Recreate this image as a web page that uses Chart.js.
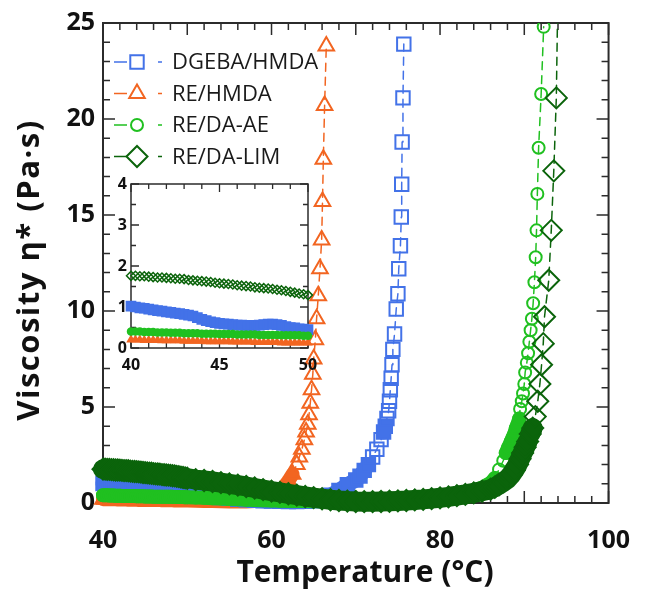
<!DOCTYPE html>
<html>
<head>
<meta charset="utf-8">
<script src="https://cdn.jsdelivr.net/npm/chart.js@4.4.1/dist/chart.umd.min.js"></script>
<style>
  html, body { margin: 0; padding: 0; background: #fff; }
  #wrap { position: relative; width: 653px; height: 592px; }
  #main { position: absolute; left: 0; top: 0; }
  #inset { position: absolute; left: 90px; top: 170px; }
</style>
</head>
<body>
<div id="wrap">
  <canvas id="main" width="653" height="592"></canvas>
  <canvas id="inset" width="240" height="215"></canvas>
</div>
<script>
// temperatures shared by all series in the 40-50 °C window (also the inset range)
const t40to50 = [40, 40.25, 40.5, 40.75, 41, 41.25, 41.5, 41.75, 42, 42.25, 42.5, 42.75, 43, 43.25, 43.5, 43.75,
    44, 44.25, 44.5, 44.75, 45, 45.25, 45.5, 45.75, 46, 46.25, 46.5, 46.75, 47, 47.25, 47.5, 47.75,
    48, 48.25, 48.5, 48.75, 49, 49.25, 49.5, 49.75, 50];

// DGEBA/HMDA
const dgebaT = t40to50.concat([51, 52, 53, 54, 55, 56, 57, 58, 59, 60, 61, 62, 63, 64, 65, 66, 67, 68, 69,
    70, 70.5, 71, 71.5, 72, 72.5, 73, 73.3, 73.5, 73.7, 73.9, 74.0, 74.1, 74.2, 74.3, 74.4, 74.6, 74.8,
    75.0, 75.1, 75.3, 75.4, 75.45, 75.5, 75.6, 75.7]);
const dgebaV = [1.02, 1.00, 0.98, 0.97, 0.95, 0.93, 0.91, 0.90, 0.88, 0.87, 0.85, 0.84, 0.82, 0.80, 0.78, 0.74,
    0.70, 0.67, 0.64, 0.62, 0.60, 0.59, 0.58, 0.57, 0.56, 0.56, 0.55, 0.55, 0.55, 0.56, 0.57, 0.58,
    0.58, 0.57, 0.55, 0.52, 0.50, 0.49, 0.47, 0.46, 0.45,
    0.42, 0.38, 0.33, 0.28, 0.24, 0.2, 0.17, 0.14, 0.12, 0.1, 0.09, 0.08, 0.08, 0.09, 0.12, 0.2, 0.4, 0.65, 0.95,
    1.2, 1.4, 1.7, 2.0, 2.4, 2.8, 3.3, 3.7, 4.0, 4.4, 4.8, 5.3, 5.9, 6.5, 7.2, 8.0, 8.8, 10.1,
    10.9, 12.2, 13.4, 14.9, 16.6, 18.8, 21.1, 23.9];

// RE/HMDA
const hmdaT = t40to50.concat([51, 52, 53, 54, 55, 56, 57, 58, 59, 60, 60.5, 61, 61.5, 62, 62.5, 63,
    63.3, 63.6, 63.9, 64.1, 64.3, 64.45, 64.6, 64.75, 64.9, 65.0, 65.2, 65.35, 65.55, 65.75, 65.95,
    66.05, 66.15, 66.3, 66.5]);
const hmdaV = [0.20, 0.20, 0.20, 0.19, 0.19, 0.19, 0.19, 0.18, 0.18, 0.18, 0.18, 0.18, 0.17, 0.17, 0.17, 0.17,
    0.17, 0.16, 0.16, 0.16, 0.16, 0.16, 0.16, 0.15, 0.15, 0.15, 0.15, 0.15, 0.14, 0.14, 0.14, 0.14,
    0.14, 0.14, 0.13, 0.13, 0.13, 0.13, 0.13, 0.13, 0.13,
    0.12, 0.11, 0.1, 0.09, 0.08, 0.08, 0.08, 0.1, 0.15, 0.25, 0.4, 0.6, 0.85, 1.15, 1.5, 2.0,
    2.4, 2.8, 3.3, 3.7, 4.1, 4.6, 5.2, 5.9, 6.7, 7.5, 8.5, 9.6, 10.8, 12.2, 13.7,
    15.7, 17.9, 20.7, 23.8];

// RE/DA-AE
const aeT = t40to50.concat([51, 52, 53, 54, 55, 56, 57, 58, 59, 60, 61, 62, 63, 64, 65, 66, 67, 68, 69, 70,
    71, 72, 73, 74, 75, 76, 77, 78, 79, 80, 81, 82, 83, 84,
    85, 85.5, 86, 86.5, 87, 87.5, 87.8, 88.1, 88.4, 88.6, 88.8, 89.0, 89.2, 89.4, 89.5, 89.7, 89.85, 90.0, 90.1,
    90.3, 90.45, 90.6, 90.75, 90.9, 91.05, 91.2, 91.35, 91.45, 91.55, 91.7, 92.0, 92.3]);
const aeV = [0.40, 0.40, 0.40, 0.39, 0.39, 0.39, 0.38, 0.38, 0.38, 0.37, 0.37, 0.37, 0.36, 0.36, 0.36, 0.36,
    0.35, 0.35, 0.35, 0.35, 0.34, 0.34, 0.34, 0.34, 0.33, 0.33, 0.33, 0.33, 0.33, 0.32, 0.32, 0.32,
    0.32, 0.32, 0.31, 0.31, 0.31, 0.31, 0.31, 0.30, 0.30,
    0.29, 0.27, 0.25, 0.23, 0.21, 0.19, 0.17, 0.15, 0.14, 0.13, 0.12, 0.11, 0.1, 0.1, 0.09, 0.09, 0.09, 0.09, 0.09, 0.1,
    0.1, 0.11, 0.12, 0.13, 0.15, 0.17, 0.2, 0.24, 0.29, 0.35, 0.42, 0.5, 0.57, 0.65,
    0.8, 0.92, 1.05, 1.3, 1.75, 2.2, 2.6, 2.9, 3.2, 3.4, 3.6, 3.9, 4.1, 4.4, 4.9, 5.3, 5.7, 6.2, 6.8,
    7.3, 7.8, 8.4, 9.0, 9.6, 10.4, 11.5, 12.8, 14.2, 16.1, 18.5, 21.3, 24.8];

// RE/DA-LIM
const limT = t40to50.concat([51, 52, 53, 54, 55, 56, 57, 58, 59, 60, 61, 62, 63, 64, 65, 66, 67, 68, 69, 70,
    71, 72, 73, 74, 75, 76, 77, 78, 79, 80, 81, 82, 83, 84, 85, 86,
    86.5, 87, 87.5, 88, 88.4, 88.8, 89.2, 89.5, 89.8, 90.1, 90.4, 90.7, 91.0, 91.3, 91.6, 91.85, 92.05, 92.25,
    92.4, 92.9, 93.2, 93.5, 93.8, 94.0]);
const limV = [1.76, 1.76, 1.75, 1.75, 1.74, 1.73, 1.72, 1.72, 1.71, 1.70, 1.69, 1.69, 1.68, 1.66, 1.65, 1.64,
    1.63, 1.62, 1.61, 1.59, 1.58, 1.57, 1.56, 1.55, 1.53, 1.52, 1.51, 1.50, 1.48, 1.47, 1.46, 1.45,
    1.44, 1.42, 1.41, 1.39, 1.37, 1.35, 1.33, 1.31, 1.29,
    1.22, 1.17, 1.12, 1.06, 1.0, 0.93, 0.86, 0.78, 0.7, 0.62, 0.55, 0.48, 0.41, 0.34, 0.28, 0.22, 0.17, 0.13, 0.1, 0.08,
    0.07, 0.07, 0.08, 0.09, 0.11, 0.13, 0.16, 0.19, 0.23, 0.27, 0.32, 0.38, 0.45, 0.53, 0.62, 0.72,
    0.82, 0.95, 1.1, 1.25, 1.45, 1.7, 2.0, 2.3, 2.6, 2.9, 3.2, 3.6, 3.9, 4.5, 5.3, 6.2, 7.2, 8.3,
    9.7, 11.6, 14.2, 17.3, 21.1, 27];

const seriesLabels = ['DGEBA/HMDA', 'RE/HMDA', 'RE/DA-AE', 'RE/DA-LIM'];

const xTitle = 'Temperature (°C)';
const yTitle = 'Viscosity η* (Pa·s)';

const toPoints = (ts, vs) => ts.map((t, i) => ({ x: t, y: vs[i] }));

const styles = [
    { color: '#4372e8', shape: 'rect', r: 9.5, band: 15, insetR: 6.5, order: 2, insetFill: true },
    { color: '#f26521', shape: 'triangle', r: 9, band: 14, insetR: 4, order: 3, insetFill: true },
    { color: '#20c020', shape: 'circle', r: 6, band: 14, insetR: 3.5, order: 1, insetFill: true },
    { color: '#0b640b', shape: 'rectRot', r: 10.5, band: 20, insetR: 4.5, order: 0, insetFill: false }
];
const seriesData = [[dgebaT, dgebaV], [hmdaT, hmdaV], [aeT, aeV], [limT, limV]];

// the real measurement is so dense that markers merge into a solid band where the curve is flat
const closeEnough = (dx, dy) => Math.abs(dy) < 7.5 && Math.abs(dx) < 12;

function denseFill(color) {
    return function (c) {
        if (c.type !== 'data') return 'rgba(255,255,255,0)';
        const pts = c.dataset.data, i = c.dataIndex;
        const xs = c.chart.scales.x, ys = c.chart.scales.y;
        const near = (a, b) => closeEnough(xs.getPixelForValue(a.x) - xs.getPixelForValue(b.x),
            ys.getPixelForValue(a.y) - ys.getPixelForValue(b.y));
        const dense = (i > 0 && near(pts[i], pts[i - 1])) || (i < pts.length - 1 && near(pts[i], pts[i + 1]));
        return dense ? color : 'rgba(255,255,255,0)';
    };
}
const segDense = s => closeEnough(s.p1.x - s.p0.x, s.p1.y - s.p0.y);

// box frame with inward ticks on all four sides
const frameTicks = {
    id: 'frameTicks',
    beforeDatasetsDraw(chart, args, o) {
        const { ctx, chartArea: a, scales: { x, y } } = chart;
        ctx.save();
        if (o.fillArea) {
            ctx.fillStyle = '#fff';
            ctx.fillRect(a.left, a.top, a.width, a.height);
        }
        ctx.strokeStyle = '#2b2b2b';
        ctx.lineWidth = o.tickWidth;
        ctx.beginPath();
        const nx = Math.round((x.max - x.min) / o.xMinor);
        for (let k = 0; k <= nx; k++) {
            const v = x.min + k * o.xMinor;
            const px = x.getPixelForValue(v);
            const major = Math.abs(v / o.xMajor - Math.round(v / o.xMajor)) < 1e-6;
            const len = major ? o.majorLen : o.minorLen;
            ctx.moveTo(px, a.bottom); ctx.lineTo(px, a.bottom - len);
            ctx.moveTo(px, a.top); ctx.lineTo(px, a.top + len);
        }
        const ny = Math.round((y.max - y.min) / o.yMinor);
        for (let k = 0; k <= ny; k++) {
            const v = y.min + k * o.yMinor;
            const py = y.getPixelForValue(v);
            const major = Math.abs(v / o.yMajor - Math.round(v / o.yMajor)) < 1e-6;
            const len = major ? o.majorLen : o.minorLen;
            ctx.moveTo(a.left, py); ctx.lineTo(a.left + len, py);
            ctx.moveTo(a.right, py); ctx.lineTo(a.right - len, py);
        }
        ctx.stroke();
        ctx.lineWidth = o.frameWidth;
        ctx.strokeRect(a.left, a.top, a.width, a.height);
        ctx.restore();
    }
};

const axisTitles = {
    id: 'axisTitles',
    afterDraw(chart, args, o) {
        const ctx = chart.ctx;
        ctx.save();
        ctx.fillStyle = '#111';
        ctx.textAlign = 'center';
        ctx.textBaseline = 'middle';
        ctx.font = o.xFont;
        ctx.fillText(o.x, o.xAt[0], o.xAt[1]);
        ctx.font = o.yFont;
        ctx.letterSpacing = o.ySpacing;
        ctx.translate(o.yAt[0], o.yAt[1]);
        ctx.rotate(-Math.PI / 2);
        ctx.fillText(o.y, 0, 0);
        ctx.restore();
    }
};

// legend drawn inside the plot: dashed stub, marker, text
const seriesKey = {
    id: 'seriesKey',
    afterDatasetsDraw(chart, args, o) {
        const ctx = chart.ctx;
        ctx.save();
        chart.data.datasets.forEach((ds, i) => {
            const y = o.top + i * o.rowGap;
            ctx.strokeStyle = ds.borderColor;
            ctx.lineWidth = 1.5;
            ctx.beginPath();
            ctx.moveTo(o.left, y); ctx.lineTo(o.left + 13, y);
            ctx.moveTo(o.left + 44, y); ctx.lineTo(o.left + 48, y);
            ctx.stroke();
            ctx.fillStyle = '#fff';
            ctx.lineWidth = 2;
            Chart.helpers.drawPoint(ctx, { pointStyle: ds.pointStyle, radius: ds.pointRadius, borderWidth: 2, rotation: 0 },
                o.left + 23, y);
            ctx.fillStyle = '#1a1a1a';
            ctx.font = o.font;
            ctx.textAlign = 'left';
            ctx.textBaseline = 'middle';
            ctx.fillText(ds.label, o.left + 58, y + 1);
        });
        ctx.restore();
    }
};

function tickFont(size) {
    return { family: "'Open Sans', 'DejaVu Sans', sans-serif", weight: 'bold', size: size };
}

function drawCharts() {
    new Chart(document.getElementById('main'), {
        type: 'scatter',
        data: {
            datasets: seriesData.map(([t, v], i) => ({
                label: seriesLabels[i],
                data: toPoints(t, v),
                showLine: true,
                borderColor: styles[i].color,
                borderWidth: 1.5,
                borderJoinStyle: 'round',
                borderCapStyle: 'round',
                segment: {
                    borderWidth: s => segDense(s) ? styles[i].band : 1.5,
                    borderDash: s => segDense(s) ? [] : [8, 6]
                },
                pointStyle: styles[i].shape,
                pointRadius: styles[i].r,
                pointBorderWidth: 2,
                pointBorderColor: styles[i].color,
                pointBackgroundColor: denseFill(styles[i].color),
                order: styles[i].order,
                clip: { left: 14, top: 0, right: 0, bottom: 14 }
            }))
        },
        options: {
            responsive: false,
            animation: false,
            events: [],
            layout: { padding: { top: 18, right: 29, left: 0, bottom: 0 } },
            scales: {
                x: {
                    type: 'linear', min: 40, max: 100,
                    afterFit(s) { s.height = 89; },
                    grid: { display: false, drawTicks: false },
                    border: { display: false },
                    ticks: { stepSize: 20, padding: 23, color: '#111', font: tickFont(25) }
                },
                y: {
                    type: 'linear', min: 0, max: 25,
                    afterFit(s) { s.width = 103; },
                    grid: { display: false, drawTicks: false },
                    border: { display: false },
                    ticks: { stepSize: 5, padding: 8, color: '#111', font: tickFont(25) }
                }
            },
            plugins: {
                legend: { display: false },
                tooltip: { enabled: false },
                frameTicks: { xMinor: 2, xMajor: 10, yMinor: 1, yMajor: 5, majorLen: 12, minorLen: 7, tickWidth: 1.5, frameWidth: 2 },
                axisTitles: {
                    x: xTitle, y: yTitle, xAt: [365, 573], yAt: [30, 270],
                    xFont: "bold 30px 'Open Sans', sans-serif",
                    yFont: "bold 31px 'Open Sans', sans-serif", ySpacing: '1.5px'
                },
                seriesKey: { left: 114, top: 62, rowGap: 31.5, font: "22px 'Open Sans', sans-serif" }
            }
        },
        plugins: [frameTicks, axisTitles, seriesKey]
    });

    // zoom of the 40-50 °C window, same measurements
    new Chart(document.getElementById('inset'), {
        type: 'scatter',
        data: {
            datasets: seriesData.map(([t, v], i) => ({
                label: seriesLabels[i],
                data: toPoints(t, v).filter(p => p.x <= 50),
                showLine: false,
                pointStyle: styles[i].shape,
                pointRadius: styles[i].insetR,
                pointBorderWidth: 1.5,
                pointBorderColor: styles[i].color,
                pointBackgroundColor: styles[i].insetFill ? styles[i].color : 'rgba(255,255,255,0)',
                order: styles[i].order,
                clip: false
            }))
        },
        options: {
            responsive: false,
            animation: false,
            events: [],
            layout: { padding: { top: 14, right: 22, left: 0, bottom: 0 } },
            scales: {
                x: {
                    type: 'linear', min: 40, max: 50,
                    afterFit(s) { s.height = 37; },
                    grid: { display: false, drawTicks: false },
                    border: { display: false },
                    ticks: { stepSize: 5, padding: 8, color: '#111', font: tickFont(16) }
                },
                y: {
                    type: 'linear', min: 0, max: 4,
                    afterFit(s) { s.width = 41; },
                    grid: { display: false, drawTicks: false },
                    border: { display: false },
                    ticks: { stepSize: 1, padding: 4, color: '#111', font: tickFont(16) }
                }
            },
            plugins: {
                legend: { display: false },
                tooltip: { enabled: false },
                frameTicks: { xMinor: 1, xMajor: 5, yMinor: 0.5, yMajor: 1, majorLen: 8, minorLen: 5, tickWidth: 1.3, frameWidth: 1.5, fillArea: true }
            }
        },
        plugins: [frameTicks]
    });
}

Promise.all([
    document.fonts.load("bold 25px 'Open Sans'"),
    document.fonts.load("22px 'Open Sans'")
]).then(drawCharts, drawCharts);
</script>
</body>
</html>
